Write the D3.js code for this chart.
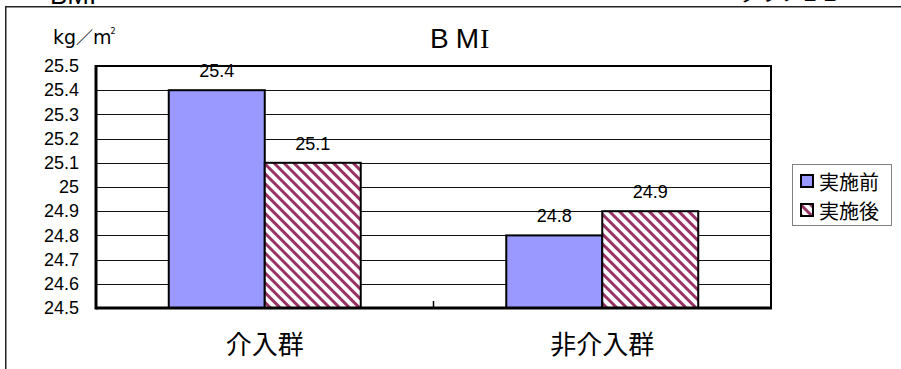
<!DOCTYPE html>
<html>
<head>
<meta charset="utf-8">
<script src="https://cdn.jsdelivr.net/npm/d3@7"></script>
<style>
  html, body { margin: 0; padding: 0; background: #fff; }
  svg { display: block; }
</style>
</head>
<body>
<svg id="chart" width="901" height="369"></svg>
<script>
// BMI before/after, intervention vs. non-intervention groups
const categories = ["介入群", "非介入群"];
const seriesNames = ["実施前", "実施後"];
const beforeValues = [25.4, 24.8];
const afterValues = [25.1, 24.9];
const yTicks = [24.5, 24.6, 24.7, 24.8, 24.9, 25, 25.1, 25.2, 25.3, 25.4, 25.5];

const latin = "'Liberation Sans', Arial, sans-serif";
const cjk = "'Noto Sans CJK JP', 'Noto Sans', sans-serif";

const svg = d3.select("#chart");
const W = 901, H = 369;
const plot = { left: 96, right: 771, top: 66, bottom: 308 };

svg.append("rect").attr("width", W).attr("height", H).attr("fill", "#fff");

// hatched fill for the "after" series
const defs = svg.append("defs");
const pat = defs.append("pattern")
  .attr("id", "hatch")
  .attr("patternUnits", "userSpaceOnUse")
  .attr("width", 7).attr("height", 7)
  .attr("patternTransform", "rotate(-45)");
pat.append("rect").attr("width", 7).attr("height", 7).attr("fill", "#fff");
pat.append("rect").attr("x", 0).attr("width", 3).attr("height", 7).attr("fill", "#993366");

// outer chart frame and the header line above it (clipped by the page edge)
svg.append("text").attr("x", 50).attr("y", 3.5)
  .attr("font-family", latin).attr("font-size", 26).attr("fill", "#000")
  .text("BMI");
svg.append("text").attr("x", 740).attr("y", 1)
  .attr("font-family", cjk).attr("font-size", 20).attr("fill", "#000")
  .text("グラフ１１");
svg.append("path")
  .attr("d", `M5.75,${H + 5} V6.75 H${W + 5}`)
  .attr("fill", "none").attr("stroke", "#222").attr("stroke-width", 1.5);

const x = d3.scaleBand().domain(categories).range([plot.left, plot.right]).padding(0);
const xs = d3.scaleBand().domain(seriesNames).range([0, x.bandwidth()])
  .paddingInner(0).paddingOuter(0.758);
const y = d3.scaleLinear().domain([24.5, 25.5]).range([plot.bottom, plot.top]);

// gridlines
svg.append("g").selectAll("line")
  .data(yTicks.slice(1, -1))
  .join("line")
  .attr("x1", plot.left).attr("x2", plot.right)
  .attr("y1", d => Math.round(y(d)) + 0.5).attr("y2", d => Math.round(y(d)) + 0.5)
  .attr("stroke", "#111").attr("stroke-width", 1);

// y axis labels
const yAxis = d3.axisLeft(y).tickValues(yTicks).tickSize(0).tickPadding(17)
  .tickFormat(d => String(+d.toFixed(1)));
const gy = svg.append("g").attr("transform", `translate(${plot.left},0)`).call(yAxis);
gy.select(".domain").remove();
gy.selectAll("text").attr("font-family", latin).attr("font-size", 18).attr("fill", "#000");

// bars with value labels
const rows = categories.map((c, i) => ({ cat: c, vals: [beforeValues[i], afterValues[i]] }));
const bars = svg.append("g");
rows.forEach(r => {
  r.vals.forEach((v, j) => {
    const bx = x(r.cat) + xs(seriesNames[j]);
    bars.append("rect")
      .attr("x", bx).attr("y", y(v))
      .attr("width", xs.bandwidth()).attr("height", y(24.5) - y(v))
      .attr("fill", j === 0 ? "#9999ff" : "url(#hatch)")
      .attr("stroke", "#000").attr("stroke-width", 2);
    svg.append("text")
      .attr("x", bx + xs.bandwidth() / 2).attr("y", y(v) - 13)
      .attr("text-anchor", "middle")
      .attr("font-family", latin).attr("font-size", 18).attr("fill", "#000")
      .text(v);
  });
});

// plot frame: thin top/right, heavy axes
svg.append("path")
  .attr("d", `M${plot.left},${plot.top} H${plot.right} V${plot.bottom}`)
  .attr("fill", "none").attr("stroke", "#000").attr("stroke-width", 2);
svg.append("line")
  .attr("x1", plot.left).attr("x2", plot.left)
  .attr("y1", plot.top - 1).attr("y2", plot.bottom + 1.5)
  .attr("stroke", "#000").attr("stroke-width", 3);
svg.append("line")
  .attr("x1", plot.left).attr("x2", plot.right + 1)
  .attr("y1", plot.bottom).attr("y2", plot.bottom)
  .attr("stroke", "#000").attr("stroke-width", 3);
// category divider tick
svg.append("line")
  .attr("x1", x(categories[1])).attr("x2", x(categories[1]))
  .attr("y1", plot.bottom - 7).attr("y2", plot.bottom)
  .attr("stroke", "#000").attr("stroke-width", 1.5);

// category labels
svg.append("g").selectAll("text")
  .data(categories)
  .join("text")
  .attr("x", d => x(d) + x.bandwidth() / 2)
  .attr("y", 342)
  .attr("dominant-baseline", "central")
  .attr("text-anchor", "middle")
  .attr("font-family", cjk).attr("font-size", 26).attr("fill", "#000")
  .text(d => d);

// title
const title = svg.append("text").attr("x", 430).attr("y", 48)
  .attr("font-size", 28).attr("fill", "#000");
title.append("tspan").attr("font-family", latin).text("B");
title.append("tspan").attr("font-family", latin).attr("dx", 7).text("M");
title.append("tspan").attr("font-family", "'Liberation Serif', serif").attr("dx", 1).text("I");

// unit
const unit = svg.append("text").attr("x", 53).attr("y", 44)
  .attr("font-family", "'DejaVu Sans', sans-serif").attr("font-size", 19).attr("fill", "#000");
unit.append("tspan").text("kg");
unit.append("tspan").attr("font-family", cjk).attr("font-size", 17).attr("dx", 0).text("／");
unit.append("tspan").text("m");
unit.append("tspan").attr("font-size", 8).attr("dy", -10).attr("dx", -1).text("2");

// legend
const lg = svg.append("g");
lg.append("rect").attr("x", 792.5).attr("y", 164.5).attr("width", 99).attr("height", 61)
  .attr("fill", "#fff").attr("stroke", "#808080").attr("stroke-width", 1);
seriesNames.forEach((s, i) => {
  const cy = 181 + i * 29;
  lg.append("rect").attr("x", 801).attr("y", cy - 6).attr("width", 12).attr("height", 12)
    .attr("fill", i === 0 ? "#9999ff" : "url(#hatch)")
    .attr("stroke", "#000").attr("stroke-width", 2);
  lg.append("text").attr("x", 819).attr("y", cy)
    .attr("dominant-baseline", "central")
    .attr("font-family", cjk).attr("font-size", 20).attr("fill", "#000")
    .text(s);
});
</script>
</body>
</html>
